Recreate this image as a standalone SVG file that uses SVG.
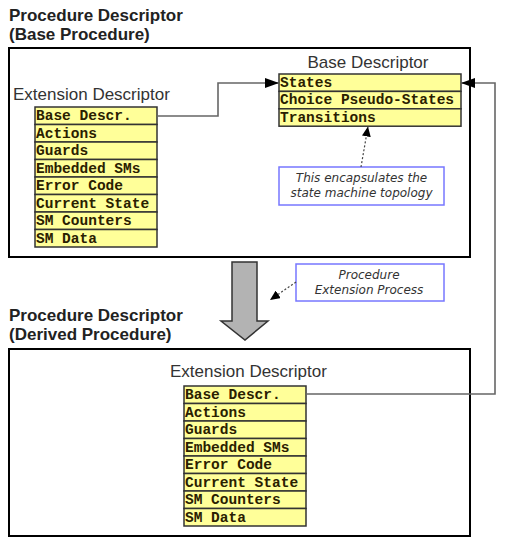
<svg xmlns="http://www.w3.org/2000/svg" width="509" height="543" viewBox="0 0 509 543">
<style>
.title{font-family:"Liberation Sans",Arial,sans-serif;font-weight:bold;font-size:17px;fill:#222}
.lbl{font-family:"Liberation Sans",Arial,sans-serif;font-size:17px;fill:#333}
.frame{fill:#fff;stroke:#000;stroke-width:2}
.cell{fill:#ffff99;stroke:#333;stroke-width:1.5}
.ct{font-family:"Liberation Mono","Courier New",monospace;font-weight:bold;font-size:14.5px;fill:#2a2000}
.note{fill:#fff;stroke:#7777ff;stroke-width:1.5}
.nt{font-family:"DejaVu Sans",sans-serif;font-style:italic;font-size:12px;fill:#333;text-anchor:middle}
.conn{fill:none;stroke:#666;stroke-width:1.6}
.dot{fill:none;stroke:#444;stroke-width:1.2;stroke-dasharray:2 2}
</style>
<defs>
<marker id="ah" markerWidth="14" markerHeight="10" refX="14" refY="5" orient="auto" markerUnits="userSpaceOnUse">
<path d="M0,0 L14,5 L0,10 Z" fill="#000"/>
</marker>
<marker id="ahs" markerWidth="10" markerHeight="9" refX="10" refY="4.5" orient="auto" markerUnits="userSpaceOnUse">
<path d="M0,0 L10,4.5 L0,9 Z" fill="#000"/>
</marker>
</defs>

<g id="base-procedure">
<text class="title" x="9" y="21">Procedure Descriptor</text>
<text class="title" x="9" y="40">(Base Procedure)</text>
<rect class="frame" x="9" y="48" width="461" height="209"/>
</g>

<g id="derived-procedure">
<text class="title" x="9" y="321">Procedure Descriptor</text>
<text class="title" x="9" y="340">(Derived Procedure)</text>
<rect class="frame" x="9" y="349" width="461" height="187"/>
</g>

<g id="base-ext-descriptor">
<text class="lbl" x="13" y="100">Extension Descriptor</text>
<rect class="cell" x="35" y="107" width="122" height="17.5"/>
<rect class="cell" x="35" y="124.5" width="122" height="17.5"/>
<rect class="cell" x="35" y="142" width="122" height="17.5"/>
<rect class="cell" x="35" y="159.5" width="122" height="17.5"/>
<rect class="cell" x="35" y="177" width="122" height="17.5"/>
<rect class="cell" x="35" y="194.5" width="122" height="17.5"/>
<rect class="cell" x="35" y="212" width="122" height="17.5"/>
<rect class="cell" x="35" y="229.5" width="122" height="17.5"/>
<text class="ct" x="36" y="120">Base Descr.</text>
<text class="ct" x="36" y="137.5">Actions</text>
<text class="ct" x="36" y="155">Guards</text>
<text class="ct" x="36" y="172.5">Embedded SMs</text>
<text class="ct" x="36" y="190">Error Code</text>
<text class="ct" x="36" y="207.5">Current State</text>
<text class="ct" x="36" y="225">SM Counters</text>
<text class="ct" x="36" y="242.5">SM Data</text>
</g>

<g id="base-descriptor">
<text class="lbl" x="368" y="68" text-anchor="middle">Base Descriptor</text>
<rect class="cell" x="279" y="74" width="182" height="17.4"/>
<rect class="cell" x="279" y="91.4" width="182" height="17.4"/>
<rect class="cell" x="279" y="108.8" width="182" height="17.4"/>
<text class="ct" x="280" y="87">States</text>
<text class="ct" x="280" y="104.4">Choice Pseudo-States</text>
<text class="ct" x="280" y="121.8">Transitions</text>
</g>

<g id="derived-ext-descriptor">
<text class="lbl" x="170" y="377">Extension Descriptor</text>
<rect class="cell" x="184" y="386" width="122" height="17.5"/>
<rect class="cell" x="184" y="403.5" width="122" height="17.5"/>
<rect class="cell" x="184" y="421" width="122" height="17.5"/>
<rect class="cell" x="184" y="438.5" width="122" height="17.5"/>
<rect class="cell" x="184" y="456" width="122" height="17.5"/>
<rect class="cell" x="184" y="473.5" width="122" height="17.5"/>
<rect class="cell" x="184" y="491" width="122" height="17.5"/>
<rect class="cell" x="184" y="508.5" width="122" height="17.5"/>
<text class="ct" x="185" y="399">Base Descr.</text>
<text class="ct" x="185" y="416.5">Actions</text>
<text class="ct" x="185" y="434">Guards</text>
<text class="ct" x="185" y="451.5">Embedded SMs</text>
<text class="ct" x="185" y="469">Error Code</text>
<text class="ct" x="185" y="486.5">Current State</text>
<text class="ct" x="185" y="504">SM Counters</text>
<text class="ct" x="185" y="521.5">SM Data</text>
</g>

<g id="note-topology">
<rect class="note" x="279" y="167" width="165" height="38"/>
<text class="nt" x="361.5" y="182">This encapsulates the</text>
<text class="nt" x="361.5" y="197">state machine topology</text>
</g>

<g id="note-extension">
<rect class="note" x="296" y="264" width="148" height="37"/>
<text class="nt" x="369" y="279">Procedure</text>
<text class="nt" x="369" y="294">Extension Process</text>
</g>

<g id="extension-arrow">
<path d="M232,262 L257,262 L257,321 L268,321 L245,340 L221,321 L232,321 Z" fill="#b3b3b3" stroke="#333" stroke-width="1.5" stroke-linejoin="miter"/>
</g>

<g id="connectors">
<path class="conn" d="M157,116 L218,116 L218,83 L279,83" marker-end="url(#ah)"/>
<path class="conn" d="M306,394 L495,394 L495,83 L461,83" marker-end="url(#ah)"/>
<path class="dot" d="M361,167 L368,126.5" marker-end="url(#ahs)"/>
<path class="dot" d="M296,282 L270,300" marker-end="url(#ahs)"/>
</g>
</svg>
